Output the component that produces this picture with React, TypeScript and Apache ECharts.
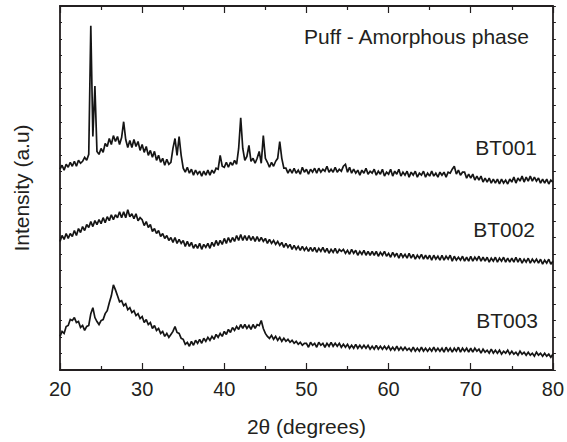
import React, { useEffect, useRef } from "react";
import * as echarts from "echarts";

// 2θ sampling grid: 20° to 80° in 0.25° steps (241 points)
const START_ANGLE = 20;
const STEP_ANGLE = 0.25;

const X_TICKS = [20, 30, 40, 50, 60, 70, 80];

// Intensities (a.u.), one value per 0.25° step
const BT001 = [
  203,207,202,208,205,210,206,211,206,212,209,211,215,212,218,348,236,287,221,218,
  224,220,229,226,234,228,237,231,236,228,235,251,233,225,232,225,233,226,231,222,
  228,220,226,217,222,215,221,212,217,210,214,207,213,208,210,224,234,217,236,217,
  204,200,205,199,203,197,202,198,201,196,201,197,202,197,202,199,204,203,217,206,
  205,210,205,210,207,212,208,224,255,224,212,216,227,211,214,209,214,221,209,237,
  214,210,205,210,206,211,214,231,214,204,204,199,203,199,204,199,202,198,205,200,
  203,198,203,200,204,199,204,200,203,201,206,200,203,200,205,200,203,201,206,208,
  200,205,199,203,199,202,197,202,199,204,198,201,199,203,197,201,198,203,196,200,
  198,203,196,201,198,203,196,200,197,201,195,200,197,201,195,199,197,201,195,199,
  196,201,196,199,195,200,197,200,195,200,199,203,206,198,202,197,200,200,194,198,
  194,198,192,196,192,196,190,194,190,194,189,193,189,193,188,193,189,192,188,193,
  190,195,189,194,191,196,190,195,191,196,191,195,191,194,189,193,189,193,188,192,
  190,
];

const BT002 = [
  130,136,132,138,133,138,135,141,136,143,139,145,141,147,144,150,145,151,147,152,
  148,154,149,155,151,157,152,157,154,160,154,160,154,162,155,158,153,158,151,154,
  152,146,150,144,147,140,143,138,141,135,138,133,136,131,134,129,134,128,132,128,
  131,125,130,125,129,123,127,123,128,122,127,124,128,123,129,125,131,126,131,127,
  133,128,134,129,134,130,136,131,137,131,136,131,136,131,135,130,135,130,134,130,
  133,128,132,128,131,127,130,126,129,124,128,124,127,122,126,122,125,121,125,121,
  124,120,124,120,124,119,123,120,124,119,123,118,122,119,123,118,122,120,122,118,
  121,117,122,118,121,116,120,117,121,116,120,116,120,116,120,115,119,116,120,115,
  118,114,119,115,118,113,118,114,117,113,118,113,117,112,116,113,117,112,116,112,
  116,111,116,112,115,111,116,111,115,112,116,110,115,111,114,111,115,110,114,110,
  115,110,114,111,115,110,114,110,114,109,113,110,114,109,113,110,114,109,113,109,
  113,109,114,109,113,108,112,109,113,108,112,109,112,108,112,107,111,108,112,107,
  110,
];

const BT003 = [
  34,39,37,44,45,51,50,53,48,49,43,45,40,44,45,57,63,53,49,46,
  50,51,57,60,68,75,86,81,75,69,70,65,67,61,63,58,60,55,57,52,
  54,48,51,46,48,42,45,40,42,37,39,34,37,33,36,39,44,38,37,32,
  31,26,28,24,29,25,30,27,31,27,32,29,33,30,34,31,36,33,37,34,
  39,36,41,38,43,40,44,41,46,42,46,42,45,41,46,42,46,45,50,42,
  37,34,32,35,31,34,30,33,29,32,29,31,28,30,27,29,26,28,25,27,
  27,23,28,25,27,23,28,25,27,23,27,24,28,24,27,24,27,23,26,23,
  26,22,25,22,26,22,25,22,25,22,25,21,24,21,25,21,24,21,24,21,
  24,20,23,20,24,20,23,20,23,20,22,19,23,19,22,19,23,19,22,19,
  22,19,23,19,22,19,22,18,23,19,22,18,22,19,23,18,22,19,22,18,
  22,18,22,19,21,17,21,18,20,17,21,17,20,17,20,16,19,17,20,16,
  19,16,18,15,19,16,18,15,18,15,17,14,18,15,17,14,17,14,16,13,
  16,
];

const SERIES_NAMES = ["BT001", "BT002", "BT003"];
const TITLE_TEXT = "Puff - Amorphous phase";

const Y_MAX = 368;
const Y_TICK_COUNT = 22;

const FONT = "'Liberation Sans', Arial, Helvetica, sans-serif";
const INK = "#231f20";

function toPairs(values: number[]) {
  return values.map((v, i) => [START_ANGLE + i * STEP_ANGLE, v]);
}

export default function App() {
  const ref = useRef<HTMLDivElement>(null);

  useEffect(() => {
    if (!ref.current) return;
    const chart = echarts.init(ref.current, null, { renderer: "svg" });

    const xCommon = {
      type: "value" as const,
      min: X_TICKS[0],
      max: X_TICKS[X_TICKS.length - 1],
      interval: X_TICKS[1] - X_TICKS[0],
      splitLine: { show: false },
      axisLine: { show: true, onZero: false, lineStyle: { color: INK, width: 1.8 } },
      axisTick: { show: true, inside: true, length: 7, lineStyle: { color: INK, width: 1.2 } },
      minorTick: { show: true, splitNumber: 2, length: 4, lineStyle: { color: INK, width: 1.2 } },
      minorSplitLine: { show: false },
    };

    const yCommon = {
      type: "value" as const,
      min: 0,
      max: Y_MAX,
      interval: Y_MAX / Y_TICK_COUNT,
      splitLine: { show: false },
      axisLabel: { show: false },
      axisLine: { show: true, onZero: false, lineStyle: { color: INK, width: 1.8 } },
    };

    const seriesData = [BT001, BT002, BT003];

    chart.setOption({
      animation: false,
      backgroundColor: "#ffffff",
      grid: { left: 60, right: 12, top: 6, bottom: 68, containLabel: false },
      xAxis: [
        {
          ...xCommon,
          position: "bottom",
          axisLabel: {
            show: true,
            color: INK,
            fontSize: 20,
            fontFamily: FONT,
            margin: 9,
          },
          name: "2θ (degrees)",
          nameLocation: "middle",
          nameGap: 46,
          nameTextStyle: { color: INK, fontSize: 21, fontFamily: FONT },
        },
        {
          ...xCommon,
          position: "top",
          axisLabel: { show: false },
        },
      ],
      yAxis: [
        {
          ...yCommon,
          position: "left",
          axisTick: { show: true, inside: true, length: 2, lineStyle: { color: INK, width: 1 } },
          name: "Intensity (a.u)",
          nameLocation: "middle",
          nameGap: 28,
          nameTextStyle: { color: INK, fontSize: 21, fontFamily: FONT },
        },
        {
          ...yCommon,
          position: "right",
          axisTick: { show: true, inside: false, length: 3, lineStyle: { color: INK, width: 1 } },
        },
      ],
      series: seriesData.map((vals, i) => ({
        name: SERIES_NAMES[i],
        type: "line",
        xAxisIndex: 0,
        yAxisIndex: 0,
        data: toPairs(vals),
        showSymbol: false,
        symbol: "none",
        lineStyle: { color: "#151515", width: 1.7, join: "miter", miterLimit: 2 },
        silent: true,
      })),
      graphic: [
        {
          type: "text",
          x: 304,
          y: 36,
          style: {
            text: TITLE_TEXT,
            fontSize: 21,
            fontFamily: FONT,
            fill: INK,
            align: "left",
            verticalAlign: "middle",
          },
        },
        {
          type: "text",
          x: 537,
          y: 147,
          style: { text: SERIES_NAMES[0], fontSize: 21, fontFamily: FONT, fill: INK, align: "right", verticalAlign: "middle" },
        },
        {
          type: "text",
          x: 535,
          y: 229,
          style: { text: SERIES_NAMES[1], fontSize: 21, fontFamily: FONT, fill: INK, align: "right", verticalAlign: "middle" },
        },
        {
          type: "text",
          x: 538,
          y: 320,
          style: { text: SERIES_NAMES[2], fontSize: 21, fontFamily: FONT, fill: INK, align: "right", verticalAlign: "middle" },
        },
      ],
    });

    return () => chart.dispose();
  }, []);

  return (
    <div
      ref={ref}
      style={{ position: "fixed", left: 0, top: 0, width: 567, height: 442, background: "#fff" }}
    />
  );
}
